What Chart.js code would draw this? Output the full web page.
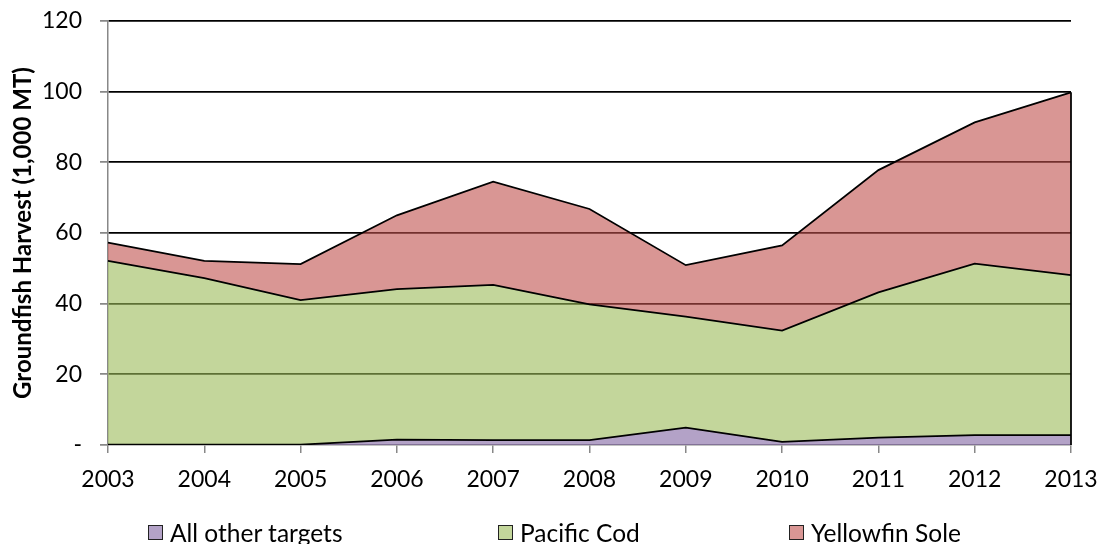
<!DOCTYPE html>
<html>
<head>
<meta charset="utf-8">
<script src="https://cdn.jsdelivr.net/npm/chart.js@4.4.1/dist/chart.umd.min.js"></script>
<style>
  html, body { margin: 0; padding: 0; background: #fff; }
  #wrap { position: relative; width: 1100px; height: 544px; }
  #legend { position: absolute; left: 0; top: 0; width: 1100px; height: 544px; pointer-events: none;
            font-family: Lato, "Open Sans", sans-serif; font-size: 24.5px; color: #000; }
  .item { position: absolute; top: 518px; display: flex; align-items: center; height: 28px; white-space: nowrap; }
  .box { width: 13px; height: 13px; border: 1px solid #222; margin-right: 7px; }
</style>
</head>
<body>
<div id="wrap">
  <canvas id="chart" width="1100" height="544"></canvas>
  <div id="legend"></div>
</div>
<script>
const years = ['2003', '2004', '2005', '2006', '2007', '2008', '2009', '2010', '2011', '2012', '2013'];
const otherTargets = [0.1, 0.1, 0.1, 1.5, 1.4, 1.4, 4.9, 0.9, 2.1, 2.8, 2.8];
const pacificCod = [52.0, 47.1, 40.9, 42.6, 43.9, 38.4, 31.4, 31.5, 41.1, 48.5, 45.3];
const yellowfinSole = [5.2, 4.9, 10.2, 20.9, 29.2, 27.0, 14.6, 24.1, 34.6, 40.0, 51.7];
const seriesNames = ['All other targets', 'Pacific Cod', 'Yellowfin Sole'];
const fills = ['rgba(128, 100, 162, 0.6)', 'rgba(155, 187, 89, 0.6)', 'rgba(192, 80, 77, 0.6)'];
const legendLeft = [148, 498, 789];

const FONT = 'Lato, "Open Sans", sans-serif';

// closes the right side of the stacked area like the spreadsheet does
const rightEdge = {
  id: 'rightEdge',
  afterDatasetsDraw(chart) {
    const top = chart.getDatasetMeta(2).data;
    const p = top[top.length - 1];
    const ctx = chart.ctx;
    ctx.save();
    ctx.strokeStyle = '#000';
    ctx.lineWidth = 1.75;
    ctx.beginPath();
    ctx.moveTo(p.x, p.y);
    ctx.lineTo(p.x, chart.chartArea.bottom);
    ctx.stroke();
    ctx.restore();
  }
};

const series = [otherTargets, pacificCod, yellowfinSole];
const ctx = document.getElementById('chart').getContext('2d');
new Chart(ctx, {
  type: 'line',
  data: {
    labels: years,
    datasets: series.map((vals, i) => ({
      label: seriesNames[i],
      data: vals,
      fill: i === 0 ? 'origin' : '-1',
      backgroundColor: fills[i],
      borderColor: '#000',
      borderWidth: 1.75,
      pointRadius: 0,
      tension: 0
    }))
  },
  options: {
    responsive: false,
    animation: false,
    layout: { padding: { top: 21, right: 29, bottom: 0, left: 0 } },
    plugins: { legend: { display: false }, tooltip: { enabled: false } },
    scales: {
      x: {
        offset: false,
        grid: { drawOnChartArea: false, drawTicks: true, tickLength: 8, tickColor: '#888', lineWidth: 1.5 },
        border: { color: '#888', width: 1.5 },
        ticks: { color: '#000', font: { family: FONT, size: 23 }, padding: 13, maxRotation: 0 },
        afterFit(scale) {
          scale.height = 99;
          scale.paddingLeft = 0;
          scale.paddingRight = 0;
        }
      },
      y: {
        stacked: true,
        min: 0,
        max: 120,
        grid: {
          color: c => (c.tick && c.tick.value === 0 ? 'rgba(0,0,0,0)' : '#000'),
          lineWidth: 1.75,
          tickLength: 8,
          tickColor: '#888'
        },
        border: { color: '#888', width: 1.5 },
        ticks: {
          stepSize: 20,
          color: '#000',
          padding: 18,
          font: { family: FONT, size: 23 },
          callback: v => (v === 0 ? '-' : v)
        },
        title: {
          display: true,
          text: 'Groundfish Harvest (1,000 MT)',
          color: '#000',
          font: { family: FONT, size: 24, weight: 'bold' },
          padding: { top: 9, bottom: 0 }
        },
        afterFit(scale) {
          scale.width = 108;
          scale.paddingTop = 0;
          scale.paddingBottom = 0;
        }
      }
    }
  },
  plugins: [rightEdge]
});

const legend = document.getElementById('legend');
seriesNames.forEach((name, i) => {
  const item = document.createElement('div');
  item.className = 'item';
  item.style.left = legendLeft[i] + 'px';
  const box = document.createElement('span');
  box.className = 'box';
  box.style.background = fills[i];
  item.appendChild(box);
  item.appendChild(document.createTextNode(name));
  legend.appendChild(item);
});
</script>
</body>
</html>
